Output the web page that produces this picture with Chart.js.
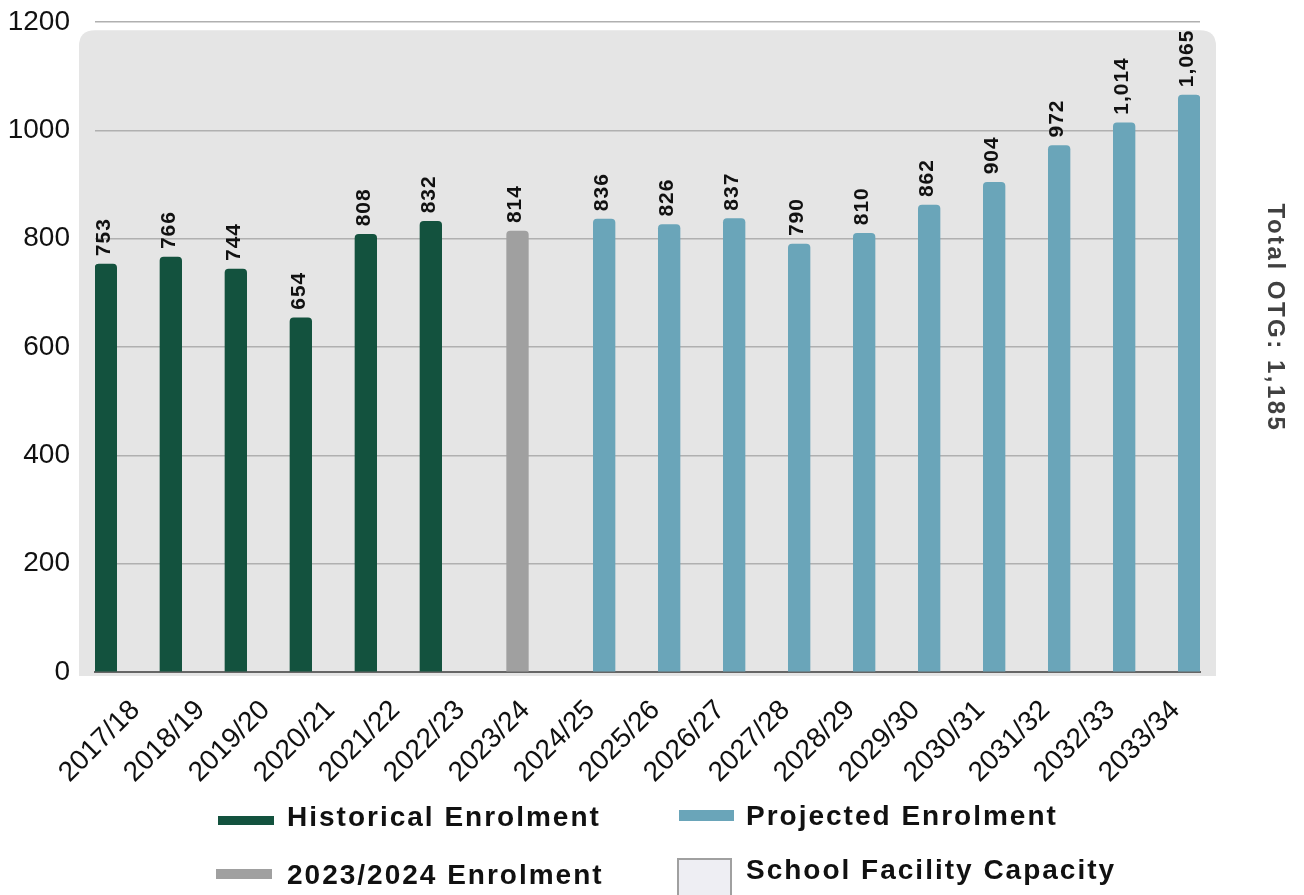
<!DOCTYPE html>
<html>
<head>
<meta charset="utf-8">
<script src="https://cdn.jsdelivr.net/npm/chart.js@4.4.1/dist/chart.umd.min.js"></script>
<style>
  body { margin: 0; background: #fff; font-family: "Liberation Sans", Arial, sans-serif; }
  #wrap { position: relative; width: 1304px; height: 895px; overflow: hidden; }
  .sw { position: absolute; }
  .lt { position: absolute; font-weight: bold; font-size: 28px; line-height: 30px; letter-spacing: 2px; color: #111; white-space: nowrap; }
</style>
</head>
<body>
<div id="wrap">
  <canvas id="enrolChart"></canvas>
  <div class="sw" style="left:218px;top:816px;width:56px;height:9px;background:#13523e"></div>
  <div class="lt" style="left:287px;top:802px">Historical Enrolment</div>
  <div class="sw" style="left:216px;top:869px;width:56px;height:10px;background:#a0a0a0"></div>
  <div class="lt" style="left:287px;top:860px">2023/2024 Enrolment</div>
  <div class="sw" style="left:679px;top:810px;width:55px;height:11px;background:#6aa5b9"></div>
  <div class="lt" style="left:746px;top:801px">Projected Enrolment</div>
  <div class="sw" style="left:677px;top:858px;width:51px;height:45px;background:#eeeef3;border:2px solid #a0a0a0"></div>
  <div class="lt" style="left:746px;top:855px">School Facility Capacity</div>
</div>
<script>
// school years on the x axis
const years = ['2017/18', '2018/19', '2019/20', '2020/21', '2021/22', '2022/23', '2023/24',
  '2024/25', '2025/26', '2026/27', '2027/28', '2028/29', '2029/30', '2030/31', '2031/32',
  '2032/33', '2033/34'];

const historical = [753, 766, 744, 654, 808, 832, null, null, null, null, null, null, null, null, null, null, null];
const current = [null, null, null, null, null, null, 814, null, null, null, null, null, null, null, null, null, null];
const projected = [null, null, null, null, null, null, null, 836, 826, 837, 790, 810, 862, 904, 972, 1014, 1065];

const capacity = 1185; // Total OTG
const yTicks = [0, 200, 400, 600, 800, 1000, 1200];

const fmt = v => v.toLocaleString('en-US');

// grey capacity panel behind the bars
const capacityPanel = {
  id: 'capacityPanel',
  beforeDraw(chart) {
    const { ctx, chartArea } = chart;
    const top = chart.scales.y.getPixelForValue(capacity);
    const left = chartArea.left - 16, right = chartArea.right + 16;
    const bottom = chartArea.bottom + 4;
    const r = 16;
    ctx.save();
    ctx.fillStyle = '#e5e5e5';
    ctx.beginPath();
    ctx.moveTo(left, bottom);
    ctx.lineTo(left, top + r);
    ctx.quadraticCurveTo(left, top, left + r, top);
    ctx.lineTo(right - r, top);
    ctx.quadraticCurveTo(right, top, right, top + r);
    ctx.lineTo(right, bottom);
    ctx.closePath();
    ctx.fill();
    ctx.restore();
  }
};

// values above bars + side caption
const barLabels = {
  id: 'barLabels',
  afterDatasetsDraw(chart) {
    const { ctx } = chart;
    ctx.save();
    ctx.font = 'bold 21px "Liberation Sans", Arial, sans-serif';
    ctx.letterSpacing = '1px';
    ctx.fillStyle = '#111';
    ctx.textAlign = 'left';
    ctx.textBaseline = 'middle';
    chart.data.datasets.forEach((ds, i) => {
      chart.getDatasetMeta(i).data.forEach((bar, j) => {
        const v = ds.data[j];
        if (v == null) return;
        ctx.save();
        ctx.translate(bar.x - 2, bar.y - 8);
        ctx.rotate(-Math.PI / 2);
        ctx.fillText(fmt(v), 0, 0);
        ctx.restore();
      });
    });

    ctx.font = 'bold 24px "Liberation Sans", Arial, sans-serif';
    ctx.letterSpacing = '2.5px';
    ctx.fillStyle = '#404040';
    ctx.textAlign = 'center';
    ctx.translate(1275, 318);
    ctx.rotate(Math.PI / 2);
    ctx.fillText('Total OTG: ' + fmt(capacity), 0, 0);
    ctx.restore();
  }
};

const barStyle = { categoryPercentage: 1, barPercentage: 1, borderRadius: { topLeft: 4, topRight: 4 }, borderSkipped: 'start' };

new Chart(document.getElementById('enrolChart'), {
  type: 'bar',
  data: {
    labels: years,
    datasets: [
      { label: 'Historical Enrolment', data: historical, backgroundColor: '#13523e', ...barStyle },
      { label: '2023/2024 Enrolment', data: current, backgroundColor: '#a0a0a0', ...barStyle },
      { label: 'Projected Enrolment', data: projected, backgroundColor: '#6aa5b9', ...barStyle }
    ]
  },
  options: {
    responsive: true,
    maintainAspectRatio: false,
    animation: false,
    layout: { padding: { left: 0, right: 104, top: 22, bottom: 0 } },
    plugins: { legend: { display: false }, tooltip: { enabled: false } },
    scales: {
      x: {
        grid: { display: false, drawTicks: false },
        border: { display: true, color: '#666', width: 2 },
        ticks: {
          autoSkip: false, minRotation: 45, maxRotation: 45,
          labelOffset: 8, padding: 22,
          color: '#111', font: { family: '"Liberation Sans", Arial, sans-serif', size: 28 }
        },
        afterFit(scale) { scale.height = 223; }
      },
      y: {
        min: 0, max: 1200,
        afterBuildTicks(scale) { scale.ticks = yTicks.map(v => ({ value: v })); },
        grid: { color: '#b0b0b0', lineWidth: 1.5, drawTicks: false },
        border: { display: false },
        ticks: {
          padding: 25,
          callback: v => String(v),
          color: '#111', font: { family: '"Liberation Sans", Arial, sans-serif', size: 28 }
        },
        afterFit(scale) {
          scale.width = 95;
          // tick padding should not push the plot top down
          scale.paddingTop = 0;
          scale.paddingBottom = 0;
        }
      }
    }
  },
  plugins: [capacityPanel, barLabels]
});
</script>
</body>
</html>
